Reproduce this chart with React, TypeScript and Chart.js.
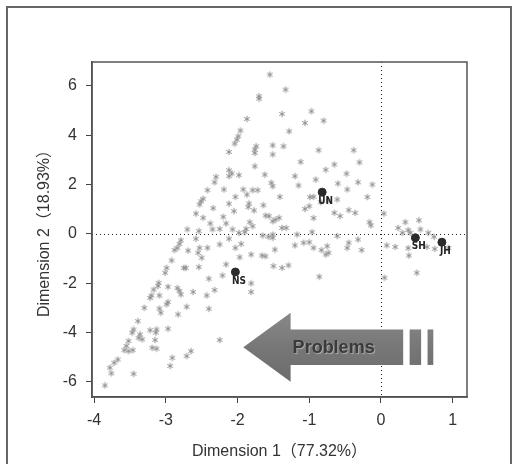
import React, { useEffect, useRef } from 'react';
import { Chart, registerables } from 'chart.js';

Chart.register(...registerables);

// Axis ticks and ranges
const X_TICKS = [-4, -3, -2, -1, 0, 1];
const Y_TICKS = [-6, -4, -2, 0, 2, 4, 6];
const X_RANGE = [-4.03, 1.2];
const Y_RANGE = [-6.62, 6.97];

const X_TITLE = 'Dimension 1（77.32%）';
const Y_TITLE = 'Dimension 2（18.93%）';

// Individual respondents: [dimension 1, dimension 2]
const RESPONDENTS: number[][] = [
  [-1.55, 6.46], [-1.33, 5.85], [-1.70, 5.58], [-1.70, 5.48], [-1.87, 4.66], [-0.97, 4.97], [-1.38, 4.86],
  [-1.06, 4.50], [-0.80, 4.59], [-1.96, 4.19], [-1.99, 3.96], [-2.01, 3.82], [-2.04, 3.66], [-1.28, 4.16],
  [-1.74, 3.55], [-1.76, 3.42], [-1.76, 3.28], [-1.51, 3.59], [-1.51, 3.22], [-1.36, 3.55], [-0.87, 3.39],
  [-0.38, 3.39], [-2.12, 3.32], [-0.30, 2.90], [-1.12, 2.92], [-1.76, 2.74], [-0.65, 2.81], [-0.77, 2.60],
  [-2.12, 2.58], [-2.12, 2.34], [-1.98, 2.38], [-2.08, 2.45], [-2.30, 2.31], [-2.32, 2.09], [-1.62, 2.40],
  [-0.48, 2.44], [-1.20, 2.34], [-0.91, 2.20], [-0.32, 2.09], [-0.60, 2.04], [-1.53, 2.07], [-1.51, 1.93],
  [-1.15, 1.96], [-0.12, 2.00], [-2.42, 1.77], [-2.19, 1.80], [-1.92, 1.80], [-1.79, 1.77], [-1.72, 1.77],
  [-0.47, 1.80], [-2.03, 1.50], [-1.87, 1.59], [-2.48, 1.42], [-2.51, 1.32], [-2.53, 1.19], [-1.41, 1.50],
  [-0.19, 1.49], [-0.99, 1.49], [-0.94, 1.50], [-0.61, 1.39], [-0.73, 1.35], [-2.12, 1.22], [-2.05, 0.92],
  [-1.84, 1.23], [-1.85, 1.09], [-1.64, 1.16], [-1.77, 0.95], [-1.06, 1.01], [-1.00, 1.12], [-0.84, 1.28],
  [0.04, 0.82], [-2.34, 1.04], [-2.58, 0.82], [-0.45, 0.96], [-0.36, 0.85], [-0.65, 0.85], [-0.57, 0.72],
  [-1.61, 0.74], [-1.56, 0.72], [-1.47, 0.58], [-1.42, 0.65], [-1.51, 0.51], [-0.94, 0.64], [-2.48, 0.65],
  [-2.20, 0.69], [-2.38, 0.42], [-2.16, 0.42], [-1.83, 0.47], [-1.79, 0.31], [-0.16, 0.47], [-0.14, 0.34],
  [0.34, 0.47], [0.53, 0.55], [0.24, 0.24], [0.38, 0.15], [0.30, 0.04], [0.41, 0.04], [0.55, 0.18],
  [0.66, 0.04], [0.74, -0.12], [-2.70, 0.18], [-2.54, 0.11], [-2.35, 0.18], [-2.25, 0.20], [-2.07, 0.18],
  [-1.88, 0.20], [-1.90, 0.07], [-1.98, 0.04], [-1.65, -0.07], [-1.57, -0.12], [-1.51, -0.03], [-1.38, 0.24],
  [-1.32, 0.24], [-1.17, -0.03], [-0.96, 0.07], [-0.61, -0.09], [-1.51, -0.16], [-2.79, -0.26], [-2.81, -0.41],
  [-2.84, -0.57], [-2.88, -0.66], [-2.69, -0.68], [-2.58, -0.20], [-2.53, -0.57], [-2.55, -0.77], [-2.50, -0.97],
  [-2.42, -0.57], [-2.25, -0.43], [-2.12, -0.20], [-2.03, -0.57], [-1.95, -0.41], [-1.97, -0.95], [-1.81, -0.84],
  [-1.66, -0.88], [-1.61, -0.91], [-1.48, -0.64], [-1.20, -0.47], [-1.08, -0.36], [-1.00, -0.34], [-0.94, -0.57],
  [-0.83, -0.66], [-0.75, -0.50], [-0.73, -0.77], [-0.77, -0.84], [-0.47, -0.57], [-0.45, -0.36], [-0.32, -0.23],
  [-0.27, -0.66], [0.08, -0.47], [0.20, -0.53], [0.38, -0.58], [0.39, -0.88], [0.64, -0.53], [0.75, -0.61],
  [0.94, -0.57], [-2.92, -1.08], [-2.99, -1.38], [-3.01, -1.58], [-2.75, -1.38], [-2.72, -1.38], [-2.54, -1.35],
  [-2.16, -1.24], [-1.50, -1.31], [-1.38, -1.38], [-1.29, -1.28], [0.05, -1.78], [0.50, -1.58], [-0.86, -1.74],
  [-2.21, -1.69], [-2.40, -1.82], [-3.10, -1.99], [-3.11, -2.12], [-2.97, -2.15], [-2.84, -2.20], [-2.81, -2.32],
  [-2.79, -2.46], [-1.81, -2.01], [-1.81, -2.36], [-3.17, -2.26], [-3.20, -2.50], [-3.22, -2.60], [-3.09, -2.50],
  [-2.62, -2.36], [-2.43, -2.50], [-2.32, -2.28], [-2.97, -2.77], [-2.99, -2.86], [-2.71, -2.96], [-3.09, -3.03],
  [-3.07, -3.20], [-3.30, -3.00], [-2.40, -3.04], [-2.83, -3.27], [-2.97, -3.85], [-3.39, -3.54], [-3.45, -3.88],
  [-3.47, -4.01], [-3.36, -4.08], [-3.38, -4.22], [-3.33, -4.28], [-3.22, -3.91], [-3.13, -3.88], [-3.14, -4.01],
  [-3.15, -4.31], [-3.19, -4.62], [-3.13, -4.66], [-3.52, -4.35], [-3.55, -4.55], [-3.58, -4.72], [-3.52, -4.76],
  [-3.46, -4.72], [-2.25, -4.31], [-2.65, -4.76], [-2.71, -4.96], [-2.91, -5.03], [-2.94, -5.36], [-3.67, -5.10],
  [-3.72, -5.23], [-3.78, -5.43], [-3.76, -5.66], [-3.45, -5.68], [-3.85, -6.15],
];

// Group centroids
const GROUP_LABELS = ['NS', 'UN', 'SH', 'JH'];
const GROUP_DIM1 = [-2.03, -0.82, 0.48, 0.85];
const GROUP_DIM2 = [-1.55, 1.69, -0.16, -0.34];

// "Problems" arrow annotation (data units)
const ARROW_TIP_X = -1.92;
const ARROW_HEAD_X = -1.26;
const ARROW_HEAD_Y = [-3.2, -6.0];
const ARROW_SHAFT_Y = [-3.88, -5.32];
const ARROW_SHAFT_END = 0.31;
const ARROW_BARS = [[0.40, 0.56], [0.65, 0.73]];
const ARROW_TEXT = 'Problems';
const ARROW_TEXT_POS = [-0.66, -4.62];

const FONT = '"Liberation Sans", Arial, "Noto Sans CJK JP", sans-serif';
const TEXT_COLOR = '#333';

export default function App() {
  const ref = useRef<HTMLCanvasElement>(null);

  useEffect(() => {
    const canvas = ref.current;
    if (!canvas) return;

    const star = document.createElement('canvas');
    star.width = 8;
    star.height = 8;
    const sctx = star.getContext('2d')!;
    sctx.strokeStyle = '#8c8c8c';
    sctx.lineWidth = 1;
    for (let k = 0; k < 3; k++) {
      const a = Math.PI / 2 + (k * Math.PI) / 3;
      sctx.beginPath();
      sctx.moveTo(4 + 3.2 * Math.cos(a), 4 + 3.2 * Math.sin(a));
      sctx.lineTo(4 - 3.2 * Math.cos(a), 4 - 3.2 * Math.sin(a));
      sctx.stroke();
    }

    const decor = {
      id: 'decor',
      beforeDatasetsDraw(chart: any) {
        const { ctx, chartArea: ca, scales } = chart;
        const xs = scales.x, ys = scales.y;
        ctx.save();
        // dotted reference lines
        ctx.strokeStyle = '#222';
        ctx.lineWidth = 1;
        ctx.setLineDash([1, 3]);
        const x0 = Math.round(xs.getPixelForValue(0)) + 0.5;
        const y0 = Math.round(ys.getPixelForValue(0)) + 0.5;
        ctx.beginPath();
        ctx.moveTo(x0, ca.top);
        ctx.lineTo(x0, ca.bottom);
        ctx.moveTo(ca.left, y0);
        ctx.lineTo(ca.right, y0);
        ctx.stroke();
        ctx.setLineDash([]);

        // arrow
        const px = (v: number) => xs.getPixelForValue(v);
        const py = (v: number) => ys.getPixelForValue(v);
        const grad = ctx.createLinearGradient(0, py(ARROW_HEAD_Y[0]), 0, py(ARROW_HEAD_Y[1]));
        grad.addColorStop(0, '#888');
        grad.addColorStop(0.5, '#777');
        grad.addColorStop(1, '#6c6c6c');
        ctx.fillStyle = grad;
        ctx.beginPath();
        ctx.moveTo(px(ARROW_TIP_X), py((ARROW_HEAD_Y[0] + ARROW_HEAD_Y[1]) / 2));
        ctx.lineTo(px(ARROW_HEAD_X), py(ARROW_HEAD_Y[0]));
        ctx.lineTo(px(ARROW_HEAD_X), py(ARROW_SHAFT_Y[0]));
        ctx.lineTo(px(ARROW_SHAFT_END), py(ARROW_SHAFT_Y[0]));
        ctx.lineTo(px(ARROW_SHAFT_END), py(ARROW_SHAFT_Y[1]));
        ctx.lineTo(px(ARROW_HEAD_X), py(ARROW_SHAFT_Y[1]));
        ctx.lineTo(px(ARROW_HEAD_X), py(ARROW_HEAD_Y[1]));
        ctx.closePath();
        ctx.fill();
        for (const [a, b] of ARROW_BARS) {
          ctx.fillRect(px(a), py(ARROW_SHAFT_Y[0]), px(b) - px(a), py(ARROW_SHAFT_Y[1]) - py(ARROW_SHAFT_Y[0]));
        }
        ctx.font = `bold 18px ${FONT}`;
        ctx.textAlign = 'center';
        ctx.textBaseline = 'middle';
        ctx.shadowColor = 'rgba(255,255,255,0.4)';
        ctx.shadowOffsetX = 1;
        ctx.shadowOffsetY = 1;
        ctx.shadowBlur = 1;
        ctx.fillStyle = '#3a3a3a';
        ctx.fillText(ARROW_TEXT, px(ARROW_TEXT_POS[0]), py(ARROW_TEXT_POS[1]));
        ctx.restore();
      },
      afterDatasetsDraw(chart: any) {
        const { ctx, chartArea: ca, scales } = chart;
        ctx.save();
        ctx.font = `bold 10px "DejaVu Sans Condensed", "Liberation Sans Narrow", sans-serif`;
        ctx.fillStyle = '#222';
        ctx.textAlign = 'center';
        ctx.textBaseline = 'top';
        GROUP_LABELS.forEach((lab, i) => {
          const x = scales.x.getPixelForValue(GROUP_DIM1[i]);
          const y = scales.y.getPixelForValue(GROUP_DIM2[i]);
          ctx.fillText(lab, x + 3.5, y + 4);
        });
        // frame
        ctx.strokeStyle = '#555';
        ctx.lineWidth = 1.5;
        ctx.strokeRect(ca.left, ca.top, ca.right - ca.left, ca.bottom - ca.top);
        ctx.restore();
      },
    };

    const chart = new Chart(canvas, {
      type: 'scatter',
      data: {
        datasets: [
          {
            data: RESPONDENTS.map(([x, y]) => ({ x, y })),
            pointStyle: star as any,
            pointRadius: 4,
            backgroundColor: '#8c8c8c',
            borderColor: '#8c8c8c',
          },
          {
            data: GROUP_LABELS.map((_, i) => ({ x: GROUP_DIM1[i], y: GROUP_DIM2[i] })),
            pointStyle: 'circle',
            pointRadius: 4,
            backgroundColor: '#2a2a2a',
            borderColor: '#2a2a2a',
          },
        ],
      },
      options: {
        responsive: false,
        animation: false,
        layout: { padding: { left: 12, right: 50, top: 62, bottom: 3 } },
        plugins: { legend: { display: false }, tooltip: { enabled: false } },
        scales: {
          x: {
            type: 'linear',
            min: X_RANGE[0],
            max: X_RANGE[1],
            afterBuildTicks: (s: any) => { s.ticks = X_TICKS.map((v) => ({ value: v })); },
            afterFit: (s: any) => { s.height = 64; },
            grid: { drawOnChartArea: false, drawTicks: true, tickLength: 6, color: '#444', lineWidth: 1 },
            border: { display: true, color: '#444', width: 1.5 },
            ticks: { font: { size: 16, family: FONT }, color: TEXT_COLOR, padding: 8, maxRotation: 0, autoSkip: false },
            title: { display: true, text: X_TITLE, font: { size: 16, family: FONT }, color: TEXT_COLOR, padding: { top: 0, bottom: 0 } },
          },
          y: {
            type: 'linear',
            min: Y_RANGE[0],
            max: Y_RANGE[1],
            afterBuildTicks: (s: any) => { s.ticks = Y_TICKS.map((v) => ({ value: v })); },
            afterFit: (s: any) => { s.width = 80; },
            grid: { drawOnChartArea: false, drawTicks: true, tickLength: 6, color: '#444', lineWidth: 1 },
            border: { display: true, color: '#444', width: 1.5 },
            ticks: { font: { size: 16, family: FONT }, color: TEXT_COLOR, padding: 9, autoSkip: false },
            title: { display: true, text: Y_TITLE, font: { size: 16, family: FONT }, color: TEXT_COLOR, padding: { top: 23, bottom: 0 } },
          },
        },
      },
      plugins: [decor],
    });

    return () => chart.destroy();
  }, []);

  return (
    <div style={{ position: 'absolute', left: 0, top: 0, width: 517, height: 464, overflow: 'hidden', background: '#fff' }}>
      <div style={{ position: 'absolute', left: 6, top: 6, width: 502, height: 500, border: '2px solid #666' }} />
      <canvas ref={ref} width={517} height={464} style={{ position: 'absolute', left: 0, top: 0, width: 517, height: 464 }} />
    </div>
  );
}
